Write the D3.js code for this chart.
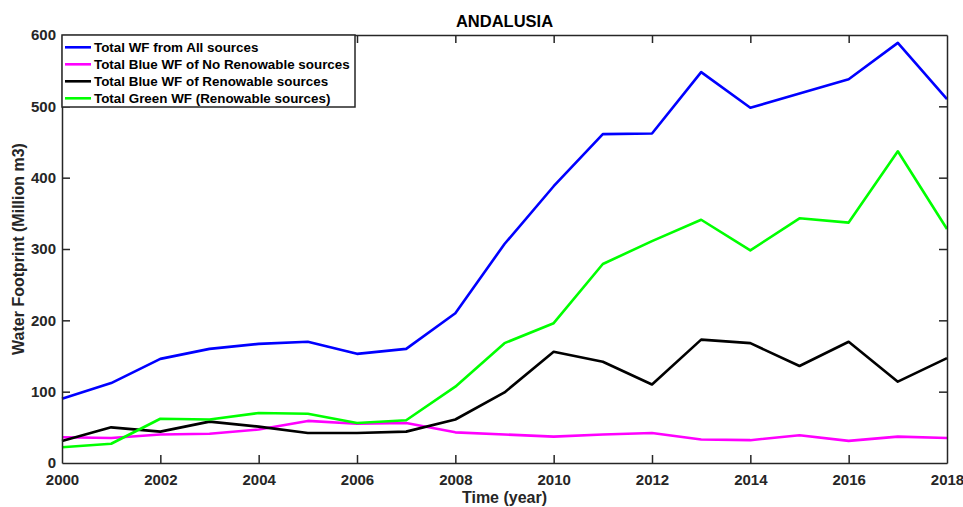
<!DOCTYPE html>
<html>
<head>
<meta charset="utf-8">
<script src="https://cdn.jsdelivr.net/npm/d3@7"></script>
<style>
  body { margin: 0; background: #fff; }
  svg { font-family: "Liberation Sans", Arial, Helvetica, sans-serif; font-weight: bold; }
</style>
</head>
<body>
<div id="chart"></div>
<script>
// data
const years = d3.range(2000, 2019);
const totalAll = [90, 112, 146, 160, 167, 170, 153, 160, 210, 307, 388, 461, 462, 548, 498, 518, 538, 589, 510];
const blueNoRenew = [36, 35, 40, 41, 47, 59, 55, 56, 43, 40, 37, 40, 42, 33, 32, 39, 31, 37, 35];
const blueRenew = [31, 50, 44, 58, 51, 42, 42, 44, 61, 99, 156, 142, 110, 173, 168, 136, 170, 114, 147];
const greenRenew = [22, 27, 62, 61, 70, 69, 56, 60, 107, 168, 196, 279, 311, 341, 298, 343, 337, 437, 328];
const xTicks = [2000, 2002, 2004, 2006, 2008, 2010, 2012, 2014, 2016, 2018];
const yTicks = [0, 100, 200, 300, 400, 500, 600];

const series = [
  { name: "Total WF from All sources", values: totalAll, color: "#0000ff" },
  { name: "Total Blue WF of No Renowable sources", values: blueNoRenew, color: "#ff00ff" },
  { name: "Total Blue WF of Renowable sources", values: blueRenew, color: "#000000" },
  { name: "Total Green WF (Renowable sources)", values: greenRenew, color: "#00ff00" }
];

const width = 963, height = 507;
const margin = { top: 35, right: 16, bottom: 44, left: 62 };
const innerW = width - margin.left - margin.right;
const innerH = height - margin.top - margin.bottom;
const axisColor = "#262626";

const svg = d3.select("#chart").append("svg")
  .attr("width", width)
  .attr("height", height);

const g = svg.append("g")
  .attr("transform", "translate(" + margin.left + "," + margin.top + ")");

const x = d3.scaleLinear().domain([2000, 2018]).range([0, innerW]);
const y = d3.scaleLinear().domain([0, 600]).range([innerH, 0]);

// lines
const line = d3.line()
  .x((d, i) => x(years[i]))
  .y(d => y(d));

g.selectAll(".series")
  .data(series)
  .enter().append("path")
  .attr("class", "series")
  .attr("fill", "none")
  .attr("stroke", d => d.color)
  .attr("stroke-width", 2.6)
  .attr("stroke-linejoin", "round")
  .attr("d", d => line(d.values));

// axes, ticks pointing inward, mirrored on top and right
const tickLen = 8;
const bottomAxis = d3.axisBottom(x).tickValues(xTicks).tickFormat(d3.format("d")).tickSizeInner(-tickLen).tickSizeOuter(0).tickPadding(11);
const leftAxis = d3.axisLeft(y).tickValues(yTicks).tickSizeInner(-tickLen).tickSizeOuter(0).tickPadding(6);
const topAxis = d3.axisTop(x).tickValues(xTicks).tickSizeInner(-tickLen).tickSizeOuter(0).tickFormat("");
const rightAxis = d3.axisRight(y).tickValues(yTicks).tickSizeInner(-tickLen).tickSizeOuter(0).tickFormat("");

function styleAxis(sel) {
  sel.selectAll("path, line").attr("stroke", axisColor).attr("stroke-width", 1.5);
  sel.selectAll("text").attr("fill", axisColor).style("font-size", "15px").style("font-weight", "bold");
}

g.append("g").attr("transform", "translate(0," + innerH + ")").call(bottomAxis).call(styleAxis);
g.append("g").call(leftAxis).call(styleAxis);
g.append("g").call(topAxis).call(styleAxis);
g.append("g").attr("transform", "translate(" + innerW + ",0)").call(rightAxis).call(styleAxis);

// drop the first/last tick marks that sit on the box corners
g.selectAll(".tick line").filter(function () {
  const t = d3.select(this.parentNode).datum();
  return t === 2000 || t === 2018 || t === 0 || t === 600;
}).remove();

// title and axis labels
svg.append("text")
  .attr("x", margin.left + innerW / 2)
  .attr("y", 27)
  .attr("text-anchor", "middle")
  .attr("fill", "#000")
  .style("font-size", "16.5px")
  .text("ANDALUSIA");

svg.append("text")
  .attr("x", margin.left + innerW / 2)
  .attr("y", 503)
  .attr("text-anchor", "middle")
  .attr("fill", axisColor)
  .style("font-size", "16px")
  .text("Time (year)");

svg.append("text")
  .attr("transform", "translate(24," + (margin.top + innerH / 2) + ") rotate(-90)")
  .attr("text-anchor", "middle")
  .attr("fill", axisColor)
  .style("font-size", "16px")
  .text("Water Footprint (Million m3)");

// legend
const legend = g.append("g").attr("class", "legend");
legend.append("rect")
  .attr("x", 0)
  .attr("y", 0)
  .attr("width", 293)
  .attr("height", 72)
  .attr("fill", "#fff")
  .attr("stroke", axisColor)
  .attr("stroke-width", 1.5);

const item = legend.selectAll(".item")
  .data(series)
  .enter().append("g")
  .attr("class", "item")
  .attr("transform", (d, i) => "translate(0," + (12.3 + i * 17) + ")");

item.append("line")
  .attr("x1", 3)
  .attr("x2", 29)
  .attr("stroke", d => d.color)
  .attr("stroke-width", 2.6);

item.append("text")
  .attr("x", 32)
  .attr("dy", "0.35em")
  .attr("fill", "#000")
  .style("font-size", "13.4px")
  .text(d => d.name);
</script>
</body>
</html>
